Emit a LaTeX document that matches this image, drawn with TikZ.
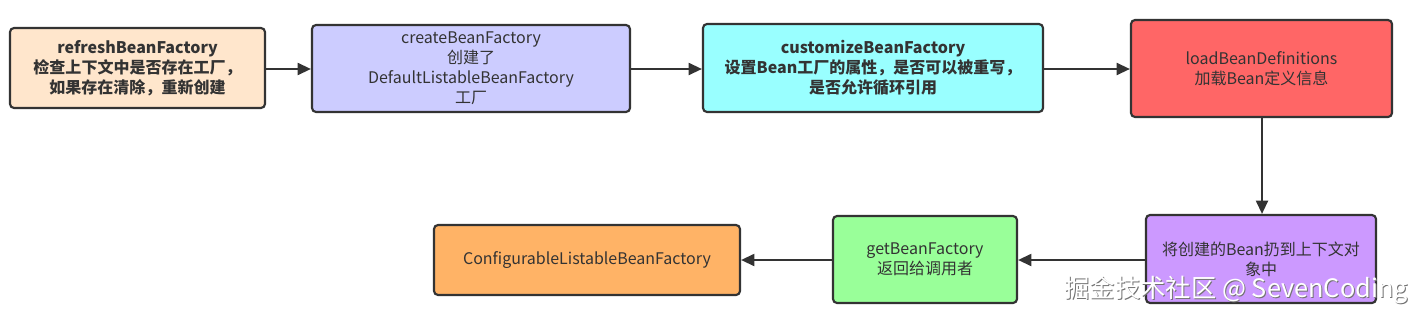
\documentclass[tikz,border=0pt]{standalone}
\usepackage{fontspec}
\setmainfont{Noto Sans CJK SC}
\usetikzlibrary{arrows.meta}
\definecolor{bordc}{HTML}{333333}
\definecolor{c1}{HTML}{FFE6CC}
\definecolor{c2}{HTML}{CCCCFF}
\definecolor{c3}{HTML}{99FFFF}
\definecolor{c4}{HTML}{FF6666}
\definecolor{c5}{HTML}{CC99FF}
\definecolor{c6}{HTML}{99FF99}
\definecolor{c7}{HTML}{FFB366}
\definecolor{txt}{HTML}{333333}
\tikzset{
  box/.style={draw=bordc, line width=1.6pt, rounded corners=3pt, align=center,
    inner sep=0pt, text=txt, font=\fontsize{12}{15}\selectfont},
  conn/.style={draw=bordc, line width=1.6pt, -{Triangle[length=10pt,width=9pt]}},
}
\begin{document}
\begin{tikzpicture}[x=0.75pt,y=-0.75pt]
\useasboundingbox (0,0) rectangle (1420,318);
\node[box, fill=c1, minimum width=255*0.75pt, minimum height=80*0.75pt] (b1) at (137.5,68)
  {\bfseries refreshBeanFactory\\ \bfseries 检查上下文中是否存在工厂，\\ \bfseries 如果存在清除，重新创建};
\node[box, fill=c2, minimum width=318*0.75pt, minimum height=87*0.75pt] (b2) at (471,68.5)
  {createBeanFactory\\创建了\\DefaultListableBeanFactory\\工厂};
\node[box, fill=c3, minimum width=340*0.75pt, minimum height=88*0.75pt] (b3) at (873,68)
  {\bfseries customizeBeanFactory\\ \bfseries 设置Bean工厂的属性，是否可以被重写，\\ \bfseries 是否允许循环引用};
\node[box, fill=c4, minimum width=261*0.75pt, minimum height=97*0.75pt] (b4) at (1261.5,68.5)
  {loadBeanDefinitions\\加载Bean定义信息};
\node[box, fill=c5, minimum width=230*0.75pt, minimum height=88*0.75pt] (b5) at (1261,259)
  {将创建的Bean扔到上下文对\\象中};
\node[box, fill=c6, minimum width=184*0.75pt, minimum height=87*0.75pt] (b6) at (925,259.5)
  {getBeanFactory\\返回给调用者};
\node[box, fill=c7, minimum width=306*0.75pt, minimum height=70*0.75pt] (b7) at (587,260)
  {ConfigurableListableBeanFactory};
\draw[conn] (b1.east |- 0,69) -- (b2.west |- 0,69);
\draw[conn] (b2.east |- 0,69) -- (b3.west |- 0,69);
\draw[conn] (b3.east |- 0,69) -- (b4.west |- 0,69);
\draw[conn] (b4.south -| 1262,0) -- (b5.north -| 1262,0);
\draw[conn] (b5.west |- 0,260) -- (b6.east |- 0,260);
\draw[conn] (b6.west |- 0,260) -- (b7.east |- 0,260);
\node[text=black!55, font=\fontsize{19}{22}\selectfont, anchor=east, inner sep=0pt] (wm1) at (1409,290.5) {掘金技术社区 @ SevenCoding};
\node[text=white, font=\fontsize{19}{22}\selectfont, anchor=east, inner sep=0pt] (wm) at (1408,289.5) {掘金技术社区 @ SevenCoding};
\end{tikzpicture}
\end{document}
